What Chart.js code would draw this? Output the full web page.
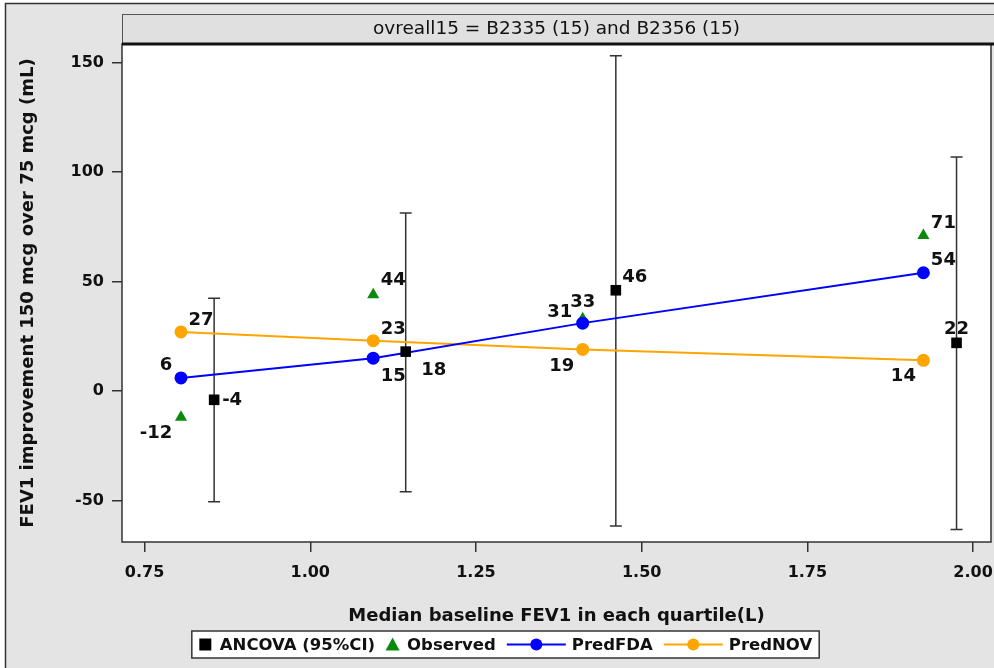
<!DOCTYPE html>
<html>
<head>
<meta charset="utf-8">
<script src="https://cdn.jsdelivr.net/npm/chart.js@4.4.1/dist/chart.umd.min.js"></script>
<style>
  html, body { margin: 0; padding: 0; background: #fff; }
  canvas { display: block; }
</style>
</head>
<body>
<canvas id="fevChart" width="994" height="668"></canvas>
<script>
// Quartile medians of baseline FEV1 (L)
const QUARTILE_X = [0.805, 1.095, 1.411, 1.925];
const ANCOVA_X = [0.855, 1.144, 1.461, 1.975];

// FEV1 improvement (mL)
const ANCOVA_Y = [-4, 18, 46, 22];
const ANCOVA_LO = [-50.5, -46, -61.6, -63.2];
const ANCOVA_HI = [42.3, 81.3, 153, 106.8];
const OBSERVED = [-12, 44, 33, 71];
const PRED_FDA = [6, 15, 31, 54];
const PRED_NOV = [27, 23, 19, 14];

const X_TICKS = [0.75, 1.0, 1.25, 1.5, 1.75, 2.0];
const Y_TICKS = [-50, 0, 50, 100, 150];

const PANEL_TITLE = "ovreall15 = B2335 (15) and B2356 (15)";
const SERIES_NAMES = ["ANCOVA (95%CI)", "Observed", "PredFDA", "PredNOV"];

// label offsets from each marker (dx, dy), per series
const LABEL_OFFSETS = [
  [[18, 1], [28, 19], [19, -13], [0, -14]],
  [[-25, 16], [20, -14], [0, -16], [20, -12]],
  [[-15, -13], [20, 18], [-23, -11], [20, -12]],
  [[20, -12], [20, -11], [-21, 17], [-20, 16]]
];

const FONT = '"DejaVu Sans", sans-serif';
const BG = "#e4e4e4";
const INK = "#111";

function pts(xs, ys) {
  return xs.map((x, i) => ({ x: x, y: ys[i] }));
}

const errorBars = {
  id: "errorBars",
  beforeDatasetsDraw(chart) {
    const { ctx, scales: { x, y } } = chart;
    ctx.save();
    ctx.strokeStyle = "#333";
    ctx.lineWidth = 1.5;
    ANCOVA_X.forEach((v, i) => {
      const px = x.getPixelForValue(v);
      const lo = y.getPixelForValue(ANCOVA_LO[i]);
      const hi = y.getPixelForValue(ANCOVA_HI[i]);
      ctx.beginPath();
      ctx.moveTo(px, lo); ctx.lineTo(px, hi);
      ctx.moveTo(px - 6, lo); ctx.lineTo(px + 6, lo);
      ctx.moveTo(px - 6, hi); ctx.lineTo(px + 6, hi);
      ctx.stroke();
    });
    ctx.restore();
  }
};

const pointLabels = {
  id: "pointLabels",
  afterDatasetsDraw(chart) {
    const ctx = chart.ctx;
    ctx.save();
    ctx.font = "bold 18px " + FONT;
    ctx.fillStyle = INK;
    ctx.textAlign = "center";
    ctx.textBaseline = "middle";
    chart.data.datasets.forEach((ds, i) => {
      chart.getDatasetMeta(i).data.forEach((el, j) => {
        const off = LABEL_OFFSETS[i][j];
        ctx.fillText(String(ds.data[j].y), el.x + off[0], el.y + off[1]);
      });
    });
    ctx.restore();
  }
};

const frame = {
  id: "frame",
  beforeDraw(chart) {
    const { ctx, chartArea: a, width, height } = chart;
    ctx.save();
    ctx.fillStyle = "#fff";
    ctx.fillRect(0, 0, width, height);
    ctx.fillStyle = BG;
    ctx.fillRect(5, 3, width - 5, height - 3);
    ctx.strokeStyle = "#333";
    ctx.lineWidth = 1.5;
    ctx.beginPath();
    ctx.moveTo(5.5, height); ctx.lineTo(5.5, 3.5); ctx.lineTo(width, 3.5);
    ctx.stroke();
    ctx.fillStyle = "#fff";
    ctx.fillRect(a.left, a.top, a.right - a.left, a.bottom - a.top);
    // panel header
    ctx.fillStyle = "#e0e0e0";
    ctx.fillRect(a.left, 14, width - a.left, a.top - 14);
    ctx.strokeStyle = "#555";
    ctx.lineWidth = 1;
    ctx.strokeRect(a.left + 0.5, 14.5, width - a.left, a.top - 14);
    ctx.fillStyle = INK;
    ctx.font = "18.5px " + FONT;
    ctx.textAlign = "center";
    ctx.textBaseline = "middle";
    ctx.fillText(PANEL_TITLE, (a.left + a.right) / 2, 29);
    ctx.restore();
  },
  afterDraw(chart) {
    const { ctx, chartArea: a } = chart;
    ctx.save();
    ctx.strokeStyle = "#333";
    ctx.lineWidth = 1.5;
    ctx.strokeRect(a.left, a.top, a.right - a.left, a.bottom - a.top);
    ctx.strokeStyle = "#111";
    ctx.lineWidth = 3;
    ctx.beginPath();
    ctx.moveTo(a.left, a.top); ctx.lineTo(chart.width, a.top);
    ctx.stroke();
    drawLegend(chart);
    ctx.restore();
  }
};

function drawLegend(chart) {
  const ctx = chart.ctx;
  const ds = chart.data.datasets;
  ctx.font = "bold 16.5px " + FONT;
  const items = SERIES_NAMES.map((name, i) => ({
    name: name,
    mark: i < 2 ? 13 : 59,
    gap: i < 2 ? 8 : 6,
    tw: ctx.measureText(name).width
  }));
  const pad = 7, between = 11;
  let total = pad * 2;
  items.forEach((it, i) => { total += it.mark + it.gap + it.tw + (i ? between : 0); });
  const cx = 505.5, top = 631, h = 27, cy = top + h / 2;
  let x = cx - total / 2;
  ctx.fillStyle = "#fff";
  ctx.fillRect(x, top, total, h);
  ctx.strokeStyle = "#333";
  ctx.lineWidth = 1.5;
  ctx.strokeRect(x, top, total, h);
  x += pad;
  items.forEach((it, i) => {
    if (i) x += between;
    const col = ds[i].backgroundColor;
    const mid = x + it.mark / 2;
    ctx.fillStyle = col;
    if (i === 0) {
      ctx.fillRect(mid - 6, cy - 6, 12, 12);
    } else if (i === 1) {
      ctx.beginPath();
      ctx.moveTo(mid, cy - 7); ctx.lineTo(mid + 7, cy + 6); ctx.lineTo(mid - 7, cy + 6);
      ctx.closePath(); ctx.fill();
    } else {
      ctx.strokeStyle = col;
      ctx.lineWidth = 2;
      ctx.beginPath(); ctx.moveTo(x, cy); ctx.lineTo(x + it.mark, cy); ctx.stroke();
      ctx.beginPath(); ctx.arc(mid, cy, 6, 0, Math.PI * 2); ctx.fill();
    }
    x += it.mark + it.gap;
    ctx.fillStyle = INK;
    ctx.textAlign = "left";
    ctx.textBaseline = "middle";
    ctx.fillText(it.name, x, cy + 1);
    x += it.tw;
  });
}

new Chart(document.getElementById("fevChart"), {
  type: "scatter",
  data: {
    datasets: [
      {
        label: SERIES_NAMES[0],
        data: pts(ANCOVA_X, ANCOVA_Y),
        pointStyle: "rect",
        pointRadius: 7.5,
        backgroundColor: "#000",
        borderColor: "#000",
        borderWidth: 0,
        order: 1
      },
      {
        label: SERIES_NAMES[1],
        data: pts(QUARTILE_X, OBSERVED),
        pointStyle: "triangle",
        pointRadius: 7,
        backgroundColor: "#0a8a0a",
        borderColor: "#0a8a0a",
        borderWidth: 0,
        order: 4
      },
      {
        label: SERIES_NAMES[2],
        data: pts(QUARTILE_X, PRED_FDA),
        showLine: true,
        pointRadius: 5.5,
        borderWidth: 2,
        backgroundColor: "#0000ff",
        borderColor: "#0000ff",
        order: 2
      },
      {
        label: SERIES_NAMES[3],
        data: pts(QUARTILE_X, PRED_NOV),
        showLine: true,
        pointRadius: 5.5,
        borderWidth: 2,
        backgroundColor: "#ffa500",
        borderColor: "#ffa500",
        order: 3
      }
    ]
  },
  options: {
    responsive: false,
    animation: false,
    layout: { autoPadding: false, padding: { left: 0, top: 44, right: 3, bottom: 38 } },
    plugins: {
      legend: { display: false },
      tooltip: { enabled: false }
    },
    scales: {
      x: {
        type: "linear",
        min: 0.716,
        max: 2.027,
        afterBuildTicks: (s) => { s.ticks = X_TICKS.map((v) => ({ value: v })); },
        afterFit: (s) => { s.height = 88; s.paddingLeft = 0; s.paddingRight = 0; },
        ticks: {
          callback: (v) => Number(v).toFixed(2),
          color: INK,
          padding: 11,
          maxRotation: 0,
          font: { family: FONT, size: 16, weight: "bold" }
        },
        grid: { drawOnChartArea: false, drawTicks: true, tickLength: 10, color: "#333", lineWidth: 1.5 },
        border: { display: false },
        title: {
          display: true,
          text: "Median baseline FEV1 in each quartile(L)",
          color: INK,
          padding: { top: 0, bottom: 3 },
          font: { family: FONT, size: 18, weight: "bold" }
        }
      },
      y: {
        min: -68.9,
        max: 158.4,
        afterBuildTicks: (s) => { s.ticks = Y_TICKS.map((v) => ({ value: v })); },
        afterFit: (s) => { s.width = 122; s.paddingTop = 0; s.paddingBottom = 0; },
        ticks: {
          color: INK,
          padding: 8,
          font: { family: FONT, size: 16, weight: "bold" }
        },
        grid: { drawOnChartArea: false, drawTicks: true, tickLength: 10, color: "#333", lineWidth: 1.5 },
        border: { display: false },
        title: {
          display: true,
          text: "FEV1 improvement 150 mcg over 75 mcg (mL)",
          color: INK,
          padding: { top: 18, bottom: 0 },
          font: { family: FONT, size: 18, weight: "bold" }
        }
      }
    }
  },
  plugins: [frame, errorBars, pointLabels]
});
</script>
</body>
</html>
